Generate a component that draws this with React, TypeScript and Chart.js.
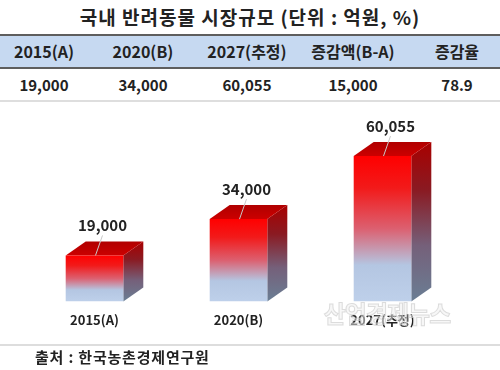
import React, { useEffect, useRef } from "react";
import { Chart, registerables } from "chart.js";

Chart.register(...registerables);

const title = "국내 반려동물 시장규모 (단위 : 억원, %)";
const tableHeaders = ["2015(A)", "2020(B)", "2027(추정)", "증감액(B-A)", "증감율"];
const tableValues = ["19,000", "34,000", "60,055", "15,000", "78.9"];
const categories = ["2015(A)", "2020(B)", "2027(추정)"];
const marketSize = [19000, 34000, 60055];
const source = "출처 : 한국농촌경제연구원";
const watermark = "산업경제뉴스";

const columnCenters = [44, 143, 247, 353, 457];
const FONT = '"Noto Sans CJK KR", "Noto Sans", sans-serif';

const DX = 20;
const DY = 14;

const cubePlugin = {
  id: "cube3d",
  beforeDatasetsDraw(chart: any) {
    const c = chart.ctx;
    const meta = chart.getDatasetMeta(0);
    meta.data.forEach((bar: any) => {
      const { x, y, base, width } = bar.getProps(["x", "y", "base", "width"], true);
      const left = x - width / 2;
      const right = x + width / 2;
      const gs = c.createLinearGradient(0, y - DY, 0, base);
      gs.addColorStop(0, "#a80000");
      gs.addColorStop(0.3, "#8a1a22");
      gs.addColorStop(0.65, "#75607a");
      gs.addColorStop(1, "#6a7e94");
      c.save();
      c.fillStyle = gs;
      c.beginPath();
      c.moveTo(right, y);
      c.lineTo(right + DX, y - DY);
      c.lineTo(right + DX, base - DY);
      c.lineTo(right, base);
      c.closePath();
      c.fill();
      const gt = c.createLinearGradient(0, y - DY, 0, y);
      gt.addColorStop(0, "#b00000");
      gt.addColorStop(1, "#cc0000");
      c.fillStyle = gt;
      c.beginPath();
      c.moveTo(left, y);
      c.lineTo(left + DX, y - DY);
      c.lineTo(right + DX, y - DY);
      c.lineTo(right, y);
      c.closePath();
      c.fill();
      c.restore();
    });
  },
  afterDatasetsDraw(chart: any) {
    const c = chart.ctx;
    const meta = chart.getDatasetMeta(0);
    const values = chart.data.datasets[0].data as number[];
    meta.data.forEach((bar: any, i: number) => {
      const { x, y } = bar.getProps(["x", "y"], true);
      const lx = x + 8;
      const ly = y - 30;
      c.save();
      c.strokeStyle = "#c8c8c8";
      c.lineWidth = 1;
      c.beginPath();
      c.moveTo(lx, ly + 10);
      c.lineTo(x + 1, y);
      c.stroke();
      c.fillStyle = "#222222";
      c.font = `bold 15px ${FONT}`;
      c.textAlign = "center";
      c.textBaseline = "middle";
      c.fillText(values[i].toLocaleString("en-US"), lx, ly);
      c.restore();
    });
  },
};

function BarChart() {
  const ref = useRef<HTMLCanvasElement | null>(null);
  useEffect(() => {
    if (!ref.current) return;
    const chart = new Chart(ref.current, {
      type: "bar",
      data: {
        labels: categories,
        datasets: [
          {
            data: marketSize,
            barPercentage: 0.4,
            categoryPercentage: 1,
            backgroundColor: (ctx: any) => {
              const ch = ctx.chart;
              if (!ch.chartArea) return "#ff0000";
              const v = ctx.raw as number;
              const yTop = ch.scales.y.getPixelForValue(v);
              const yBot = ch.scales.y.getPixelForValue(0);
              const g = ch.ctx.createLinearGradient(0, yTop, 0, yBot);
              g.addColorStop(0, "#ff0000");
              g.addColorStop(0.22, "#f21a1a");
              g.addColorStop(0.5, "#dc6070");
              g.addColorStop(0.75, "#b4c6e2");
              g.addColorStop(1, "#bed0ea");
              return g;
            },
            borderWidth: 0,
          },
        ],
      },
      options: {
        animation: false,
        responsive: false,
        maintainAspectRatio: false,
        layout: { padding: { left: 22.5, right: 45.5, top: 27, bottom: 6 } },
        plugins: { legend: { display: false }, tooltip: { enabled: false } },
        scales: {
          x: {
            grid: { display: false, drawTicks: false },
            border: { display: false },
            ticks: {
              color: "#222222",
              padding: 11,
              font: { family: FONT, size: 13, weight: "bold" },
            },
          },
          y: { display: false, min: 0, max: 70000 },
        },
      },
      plugins: [cubePlugin],
    });
    return () => chart.destroy();
  }, []);
  return (
    <canvas
      ref={ref}
      width={500}
      height={240}
      style={{ position: "absolute", left: 0, top: 105, width: 500, height: 240 }}
    />
  );
}

const abs = (o: React.CSSProperties): React.CSSProperties => ({ position: "absolute", ...o });

export default function App() {
  useEffect(() => {
    document.body.style.margin = "0";
  }, []);
  return (
    <div
      style={{
        position: "absolute",
        left: 0,
        top: 0,
        width: 500,
        height: 370,
        background: "#ffffff",
        overflow: "hidden",
        fontFamily: FONT,
        color: "#222222",
      }}
    >
      <div
        style={abs({
          left: 0,
          top: 4,
          width: 500,
          height: 26,
          lineHeight: "26px",
          textAlign: "center",
          fontWeight: "bold",
          fontSize: 19,
          letterSpacing: 1,
        })}
      >
        {title}
      </div>
      <div style={abs({ left: 0, top: 34, width: 500, height: 2, background: "#5e5e5e" })} />
      <div style={abs({ left: 0, top: 36, width: 500, height: 31, background: "#c6d9f1" })} />
      <div style={abs({ left: 0, top: 67, width: 500, height: 2, background: "#5e5e5e" })} />
      {tableHeaders.map((h, i) => (
        <div
          key={"h" + i}
          style={abs({
            left: columnCenters[i] - 60,
            top: 36,
            width: 120,
            height: 31,
            lineHeight: "31px",
            textAlign: "center",
            fontWeight: "bold",
            fontSize: 16,
          })}
        >
          {h}
        </div>
      ))}
      {tableValues.map((v, i) => (
        <div
          key={"v" + i}
          style={abs({
            left: columnCenters[i] - 60,
            top: 70,
            width: 120,
            height: 30,
            lineHeight: "30px",
            textAlign: "center",
            fontWeight: "bold",
            fontSize: 15,
          })}
        >
          {v}
        </div>
      ))}
      <div style={abs({ left: 0, top: 100, width: 500, height: 2, background: "#dedede" })} />
      <BarChart />
      <div
        style={abs({
          left: 312,
          top: 298,
          width: 150,
          height: 30,
          lineHeight: "30px",
          textAlign: "center",
          fontSize: 24,
          fontWeight: "bold",
          color: "rgba(240,240,240,0.5)",
          WebkitTextStroke: "1px rgba(200,200,200,0.6)",
          letterSpacing: -1,
          pointerEvents: "none",
        })}
      >
        {watermark}
      </div>
      <div style={abs({ left: 0, top: 344, width: 500, height: 2, background: "#dddddd" })} />
      <div
        style={abs({
          left: 35,
          top: 347,
          width: 300,
          height: 20,
          lineHeight: "20px",
          fontWeight: "bold",
          fontSize: 15,
          letterSpacing: 0.8,
        })}
      >
        {source}
      </div>
    </div>
  );
}
